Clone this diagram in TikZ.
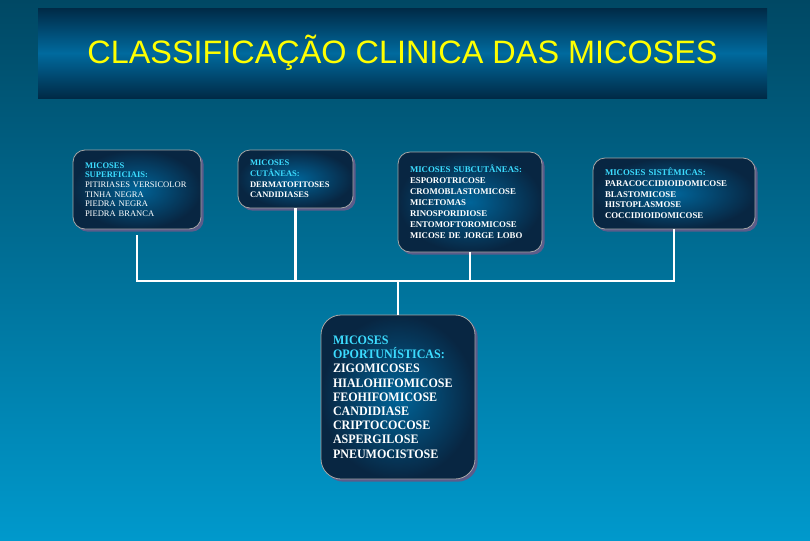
\documentclass[tikz,border=0pt]{standalone}
\usepackage{fontspec}
\setmainfont{Liberation Serif}
\newfontfamily\headfont{Liberation Sans}
\newfontfamily\oppfont[FakeStretch=0.93]{Liberation Serif Bold}
\usetikzlibrary{shadows}

\definecolor{bgtop}{RGB}{0,72,100}
\definecolor{bgbot}{RGB}{0,153,204}
\definecolor{titledark}{RGB}{0,42,70}
\definecolor{titlemid}{RGB}{0,106,158}
\definecolor{boxdark}{RGB}{8,38,66}
\definecolor{boxlight}{RGB}{0,100,152}
\definecolor{headcyan}{RGB}{60,220,255}
\definecolor{titleyel}{RGB}{255,255,0}

\begin{document}
\begin{tikzpicture}[x=0.75pt,y=-0.75pt,
    micbox/.style={draw=gray!70,line width=0.6pt,rounded corners=9pt,
      inner color=boxlight,outer color=boxdark,text=white,align=left,inner xsep=9pt,
      drop shadow={fill=gray!80!blue!90!black,opacity=1,shadow xshift=2pt,shadow yshift=-2pt}},
    link/.style={draw=white,line width=1.6pt}]
  \fill[top color=bgtop,bottom color=bgbot] (0,0) rectangle (810,540);
  \node[top color=titledark,bottom color=titledark,middle color=titlemid,
    minimum width=546.75pt,minimum height=67.5pt,inner sep=0pt,text=titleyel,
    font=\headfont\fontsize{24.3}{28}\selectfont] (title) at (402.5,53) {CLASSIFICAÇÃO CLINICA DAS MICOSES};
  % the five groups
  \node[micbox,minimum width=96pt,minimum height=59.25pt,text width=78pt,
    font=\fontsize{6.4}{7.2}\selectfont] (sup) at (137,189.5)
    {\textcolor{headcyan}{\bfseries MICOSES}\\\textcolor{headcyan}{\bfseries SUPERFICIAIS:}\\PITIRIASES VERSICOLOR\\TINHA NEGRA\\PIEDRA NEGRA\\PIEDRA BRANCA};
  \node[micbox,minimum width=86.25pt,minimum height=43.5pt,text width=68.25pt,
    font=\bfseries\fontsize{6.4}{8}\selectfont] (cut) at (295.5,179)
    {\textcolor{headcyan}{MICOSES}\\\textcolor{headcyan}{CUTÂNEAS:}\\DERMATOFITOSES\\CANDIDIASES};
  \node[micbox,minimum width=108pt,minimum height=75pt,text width=90pt,
    font=\bfseries\fontsize{6.6}{8.25}\selectfont] (sub) at (470,202)
    {\textcolor{headcyan}{MICOSES SUBCUTÂNEAS:}\\ESPOROTRICOSE\\CROMOBLASTOMICOSE\\MICETOMAS\\RINOSPORIDIOSE\\ENTOMOFTOROMICOSE\\MICOSE DE JORGE LOBO};
  \node[micbox,minimum width=121.5pt,minimum height=53.25pt,text width=103.5pt,
    font=\bfseries\fontsize{6.6}{8}\selectfont] (sis) at (674,193.5)
    {\textcolor{headcyan}{MICOSES SISTÊMICAS:}\\PARACOCCIDIOIDOMICOSE\\BLASTOMICOSE\\HISTOPLASMOSE\\COCCIDIOIDOMICOSE};
  \node[micbox,rounded corners=15pt,minimum width=115.5pt,minimum height=123pt,text width=97.5pt,
    font=\oppfont\fontsize{9.7}{10.65}\selectfont] (opo) at (398,397)
    {\textcolor{headcyan}{MICOSES}\\\textcolor{headcyan}{OPORTUNÍSTICAS:}\\ZIGOMICOSES\\HIALOHIFOMICOSE\\FEOHIFOMICOSE\\CANDIDIASE\\CRIPTOCOCOSE\\ASPERGILOSE\\PNEUMOCISTOSE};
  % connectors
  \coordinate (bus) at (398,281);
  \draw[link] (sup.south) ++(0,6) |- (bus) -| (sis.south);
  \draw[link] (cut.south) -- (cut.south |- bus);
  \draw[link] (sub.south) -- (sub.south |- bus);
  \draw[link] (bus) -- (opo.north);
\end{tikzpicture}
\end{document}
